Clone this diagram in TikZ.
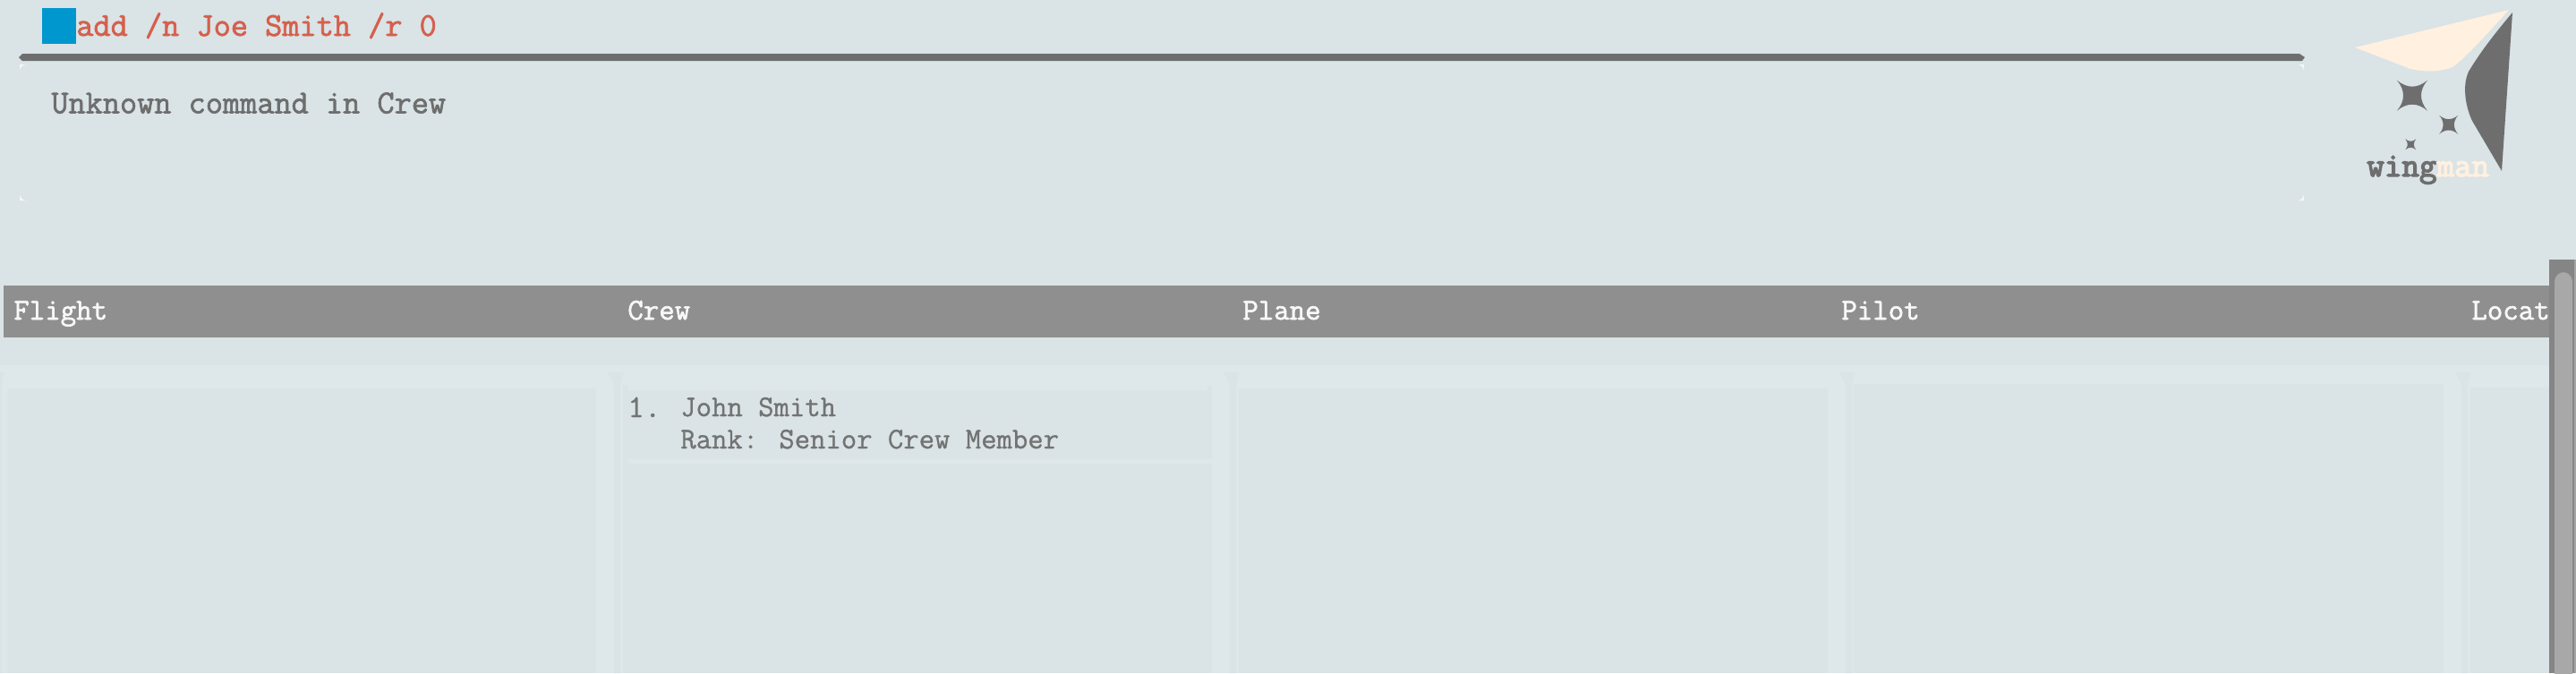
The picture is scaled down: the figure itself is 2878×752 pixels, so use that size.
\documentclass[tikz,border=0pt]{standalone}
\usepackage{fontspec}
\usetikzlibrary{
  backgrounds,
  calc
}
\newfontfamily\termfont[FakeBold=1.8]{Latin Modern Mono}
\newfontfamily\logofont[FakeBold=3.6]{Latin Modern Mono}
\newfontfamily\listfont[FakeBold=.9]{Latin Modern Mono}
\definecolor{screen}{RGB}{218,227,230}
\definecolor{panellight}{RGB}{222,231,234}
\definecolor{cornerwhite}{RGB}{246,248,249}
\definecolor{cursorblue}{RGB}{0,151,206}
\definecolor{commandred}{RGB}{212,96,76}
\definecolor{ink}{RGB}{110,110,110}
\definecolor{listink}{RGB}{115,115,115}
\definecolor{cream}{RGB}{255,240,224}
\definecolor{headergray}{RGB}{143,143,143}
\definecolor{headertext}{RGB}{248,248,248}
\definecolor{tracktone}{RGB}{133,133,133}
\definecolor{thumbtone}{RGB}{168,168,168}
\tikzset{
  label text/.style={anchor=base west,inner sep=0pt,font=\termfont\fontsize{21.18pt}{24pt}\selectfont},
  result text/.style={label text,text=ink},
  command text/.style={label text,text=commandred},
  header text/.style={anchor=base west,inner sep=0pt,text=headertext,font=\termfont\fontsize{19.3pt}{22pt}\selectfont},
  list text/.style={anchor=base west,inner sep=0pt,text=listink,font=\listfont\fontsize{19.2pt}{22pt}\selectfont},
  logo text/.style={anchor=base west,inner sep=0pt,font=\logofont\fontsize{21.6pt}{24pt}\selectfont}
}
\begin{document}
\begin{tikzpicture}[x=.02cm,y=-.02cm]
  \useasboundingbox (0,0) rectangle (2878,752);
  \fill[screen] (0,0) rectangle (2878,752);

  % command box
  \fill[cursorblue] (47,9) rectangle (85,49);
  \node[command text] (command) at (85,40) {add /n Joe Smith /r 0};
  \fill[ink] (21,64) -- (25,60) -- (2569,60) -- (2575,64) -- (2572,68) -- (25,68) -- cycle;
  \node[result text] (result) at (57,126.5) {Unknown command in Crew};

  % corners of the result box
  \fill[cornerwhite] (22,72) -- (30,72) .. controls (25,72) and (22,75) .. (22,80) -- cycle;
  \fill[cornerwhite] (22,224) -- (30,224) .. controls (25,224) and (22,221) .. (22,216) -- cycle;
  \fill[cornerwhite] (2574,72) -- (2566,72) .. controls (2571,72) and (2574,75) .. (2574,80) -- cycle;
  \fill[cornerwhite] (2574,224) -- (2566,224) .. controls (2571,224) and (2574,221) .. (2574,216) -- cycle;

  % logo
  \fill[cream] (2803,11) -- (2631,53) -- (2693,77) .. controls (2712,81) and (2728,80) .. (2740,75) .. controls (2752,67) and (2775,42) .. (2803,11) -- cycle;
  \fill[ink] (2807,14) .. controls (2785,40) and (2770,60) .. (2758,80) .. controls (2751,95) and (2754,118) .. (2762,135) -- (2795,191) -- cycle;
  \foreach \cx/\cy/\r in {2695/106.7/17,2735.7/139.3/10.5,2693.3/161.3/6} {
    \fill[ink] (\cx-\r,\cy-\r) .. controls (\cx-.35*\r,\cy-.45*\r) and (\cx+.35*\r,\cy-.45*\r) ..
      (\cx+\r,\cy-\r) .. controls (\cx+.45*\r,\cy-.35*\r) and (\cx+.45*\r,\cy+.35*\r) ..
      (\cx+\r,\cy+\r) .. controls (\cx+.35*\r,\cy+.45*\r) and (\cx-.35*\r,\cy+.45*\r) ..
      (\cx-\r,\cy+\r) .. controls (\cx-.45*\r,\cy+.35*\r) and (\cx-.45*\r,\cy-.35*\r) ..
      (\cx-\r,\cy-\r) -- cycle;
  }
  \node[logo text] (logo) at (2644,197) {\textcolor{ink}{wing}\textcolor{cream}{man}};

  % column panels
  \fill[panellight] (0,408) rectangle (2848,752);
  \foreach \left/\right/\top in {8/666/434,696/1354/430,1384/2042/434,2071/2730/429,2760/2848/433} {
    \fill[screen] (\left,\top) rectangle (\right,752);
  }
  \fill[panellight] (702,430) rectangle (1349,436);
  \fill[panellight] (702,513) rectangle (1354,518);

  % gutters between the panels
  \foreach \right in {666,1354,2042,2730} {
    \fill[screen] (\right+12,416) .. controls (\right+17,422) and (\right+20,428) .. (\right+20,434) -- (\right+20,752) --
      (\right+27,752) -- (\right+27,434) .. controls (\right+27,428) and (\right+28,422) .. (\right+31,416) -- cycle;
  }
  \fill[screen] (0,416) -- (5,416) .. controls (3,422) and (2,428) .. (2,434) -- (2,752) -- (0,752) -- cycle;

  % header row
  \fill[headergray] (4,319) rectangle (2848,377);
  \foreach \name/\xpos in {Flight/15,Crew/701,Plane/1388,Pilot/2057,Locat/2761} {
    \node[header text] (\name) at (\xpos,357) {\name};
  }

  % list card
  \node[list text,font=\listfont\fontsize{20.5pt}{22pt}\selectfont] (index) at (701,466) {1.};
  \node[list text] (crewname) at (760,465) {John Smith};
  \node[list text] (crewrank) at (760,501) {Rank: Senior Crew Member};

  % scroll bar
  \fill[tracktone] (2848,290) rectangle (2878,752);
  \fill[thumbtone,rounded corners=6pt] (2854,304) rectangle (2874,790);
  \fill[headergray!75!screen] (2876,290) rectangle (2878,752);
\end{tikzpicture}
\end{document}
